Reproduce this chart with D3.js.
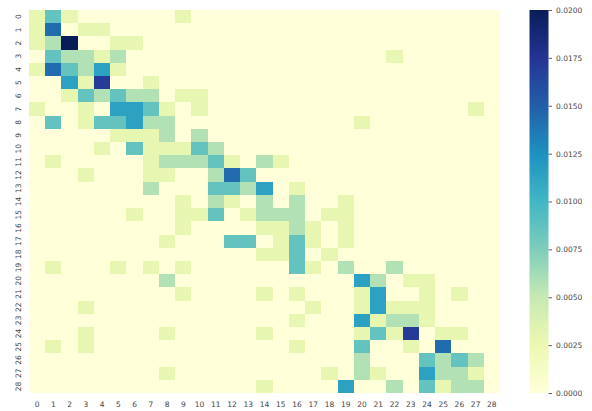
<!DOCTYPE html>
<html>
<head>
<meta charset="utf-8">
<script src="https://cdn.jsdelivr.net/npm/d3@7"></script>
<style>
  body { margin: 0; background: #fff; }
  text { font-family: "DejaVu Sans", sans-serif; fill: #444; }
</style>
</head>
<body>
<div id="chart"></div>
<script>
// row / column labels
const rowLabels = d3.range(29).map(String);
const colLabels = d3.range(29).map(String);

// heatmap values, one array per row
const values = [
  [0.0029,0.0086,0.0029,0,0,0,0,0,0,0.0029,0,0,0,0,0,0,0,0,0,0,0,0,0,0,0,0,0,0,0],
  [0.0029,0.0143,0,0.0029,0.0029,0,0,0,0,0,0,0,0,0,0,0,0,0,0,0,0,0,0,0,0,0,0,0,0],
  [0.0029,0.0057,0.02,0,0,0.0029,0.0029,0,0,0,0,0,0,0,0,0,0,0,0,0,0,0,0,0,0,0,0,0,0],
  [0,0.0086,0.0057,0.0057,0.0029,0.0057,0,0,0,0,0,0,0,0,0,0,0,0,0,0,0,0,0.0029,0,0,0,0,0,0],
  [0.0029,0.0143,0.0086,0.0057,0.0114,0.0029,0,0,0,0,0,0,0,0,0,0,0,0,0,0,0,0,0,0,0,0,0,0,0],
  [0,0,0.0114,0.0029,0.0171,0,0,0.0029,0,0,0,0,0,0,0,0,0,0,0,0,0,0,0,0,0,0,0,0,0],
  [0,0,0.0029,0.0086,0.0057,0.0086,0.0057,0.0057,0,0.0029,0.0029,0,0,0,0,0,0,0,0,0,0,0,0,0,0,0,0,0,0],
  [0.0029,0,0,0.0029,0,0.0114,0.0114,0.0086,0.0029,0,0.0029,0,0,0,0,0,0,0,0,0,0,0,0,0,0,0,0,0.0029,0],
  [0,0.0086,0,0.0029,0.0086,0.0086,0.0114,0.0057,0.0057,0,0,0,0,0,0,0,0,0,0,0,0.0029,0,0,0,0,0,0,0,0],
  [0,0,0,0,0,0.0029,0.0029,0.0029,0.0057,0,0.0057,0,0,0,0,0,0,0,0,0,0,0,0,0,0,0,0,0,0],
  [0,0,0,0,0.0029,0,0.0086,0.0029,0.0029,0.0029,0.0086,0.0057,0,0,0,0,0,0,0,0,0,0,0,0,0,0,0,0,0],
  [0,0.0029,0,0,0,0,0,0.0029,0.0057,0.0057,0.0057,0.0086,0.0029,0,0.0057,0.0029,0,0,0,0,0,0,0,0,0,0,0,0,0],
  [0,0,0,0.0029,0,0,0,0.0029,0.0029,0,0,0.0057,0.0143,0.0086,0,0,0,0,0,0,0,0,0,0,0,0,0,0,0],
  [0,0,0,0,0,0,0,0.0057,0,0,0,0.0086,0.0086,0.0057,0.0114,0,0.0029,0,0,0,0,0,0,0,0,0,0,0,0],
  [0,0,0,0,0,0,0,0,0,0.0029,0,0.0057,0.0029,0,0.0057,0,0.0057,0,0,0.0029,0,0,0,0,0,0,0,0,0],
  [0,0,0,0,0,0,0.0029,0,0,0.0029,0.0029,0.0086,0,0.0029,0.0057,0.0057,0.0057,0,0.0029,0.0029,0,0,0,0,0,0,0,0,0],
  [0,0,0,0,0,0,0,0,0,0.0029,0,0,0,0,0.0029,0.0029,0.0057,0.0029,0,0.0029,0,0,0,0,0,0,0,0,0],
  [0,0,0,0,0,0,0,0,0.0029,0,0,0,0.0086,0.0086,0,0.0029,0.0086,0.0029,0,0.0029,0,0,0,0,0,0,0,0,0],
  [0,0,0,0,0,0,0,0,0,0,0,0,0,0,0.0029,0.0029,0.0086,0,0.0029,0,0,0,0,0,0,0,0,0,0],
  [0,0.0029,0,0,0,0.0029,0,0.0029,0,0.0029,0,0,0,0,0,0,0.0086,0.0029,0,0.0057,0,0,0.0057,0,0,0,0,0,0],
  [0,0,0,0,0,0,0,0,0.0057,0,0,0,0,0,0,0,0,0,0,0,0.0114,0.0057,0,0.0029,0.0029,0,0,0,0],
  [0,0,0,0,0,0,0,0,0,0.0029,0,0,0,0,0.0029,0,0.0029,0,0,0,0.0029,0.0114,0,0,0.0029,0,0.0029,0,0],
  [0,0,0,0.0029,0,0,0,0,0,0,0,0,0,0,0,0,0,0.0029,0,0,0.0029,0.0114,0.0029,0.0029,0.0029,0,0,0,0],
  [0,0,0,0,0,0,0,0,0,0,0,0,0,0,0,0,0.0029,0,0,0,0.0114,0.0029,0.0057,0.0057,0.0029,0,0,0,0],
  [0,0,0,0.0029,0,0,0,0,0.0029,0,0,0,0,0,0.0029,0,0,0,0,0,0.0029,0.0086,0.0029,0.0171,0,0.0029,0.0029,0,0],
  [0,0.0029,0,0.0029,0,0,0,0,0,0,0,0,0,0,0,0,0.0029,0,0,0,0.0086,0,0,0.0029,0,0.0143,0,0,0],
  [0,0,0,0,0,0,0,0,0,0,0,0,0,0,0,0,0,0,0,0,0.0057,0,0,0,0.0086,0.0057,0.0086,0.0057,0],
  [0,0,0,0,0,0,0,0,0.0029,0,0,0,0,0,0,0,0,0,0.0029,0,0.0057,0.0029,0,0,0.0114,0.0057,0.0057,0.0029,0],
  [0,0,0,0,0,0,0,0,0,0,0,0,0,0,0.0029,0,0,0,0,0.0114,0,0,0.0057,0,0.0086,0.0029,0.0057,0.0057,0]
];

// colorbar range and ticks
const vmin = 0, vmax = 0.02;
const colorbarTicks = [0, 0.0025, 0.005, 0.0075, 0.01, 0.0125, 0.015, 0.0175, 0.02];

// matplotlib YlGnBu anchors
const ylgnbu = ["#ffffd9","#edf8b1","#c7e9b4","#7fcdbb","#41b6c4","#1d91c0","#225ea8","#253494","#081d58"];

const width = 592, height = 411;
const plot = { left: 29, top: 10, right: 500, bottom: 393 };
const bar = { left: 529.5, right: 548.5 };

const svg = d3.select("#chart").append("svg")
    .attr("width", width)
    .attr("height", height);

const x = d3.scaleBand().domain(colLabels).range([plot.left, plot.right]);
const y = d3.scaleBand().domain(rowLabels).range([plot.top, plot.bottom]);

const color = d3.scaleLinear()
    .domain(ylgnbu.map((c, i) => vmin + (vmax - vmin) * i / (ylgnbu.length - 1)))
    .range(ylgnbu)
    .interpolate(d3.interpolateRgb)
    .clamp(true);

// flatten into cells
const cells = [];
values.forEach((row, r) => row.forEach((v, c) => cells.push({ r: rowLabels[r], c: colLabels[c], v: v })));

svg.append("g")
    .selectAll("rect")
    .data(cells)
    .enter().append("rect")
    .attr("x", d => x(d.c))
    .attr("y", d => y(d.r))
    .attr("width", x.bandwidth() + 0.3)
    .attr("height", y.bandwidth() + 0.3)
    .attr("fill", d => color(d.v))
    .attr("shape-rendering", "crispEdges");

// x tick labels
svg.append("g")
    .selectAll("text")
    .data(colLabels)
    .enter().append("text")
    .attr("x", d => x(d) + x.bandwidth() / 2)
    .attr("y", 407)
    .attr("text-anchor", "middle")
    .style("font-size", "7.5px")
    .text(d => d);

// y tick labels, rotated
svg.append("g")
    .selectAll("text")
    .data(rowLabels)
    .enter().append("text")
    .attr("transform", d => `translate(21, ${y(d) + y.bandwidth() / 2}) rotate(-90)`)
    .attr("text-anchor", "middle")
    .style("font-size", "7.5px")
    .text(d => d);

// colorbar
const cy = d3.scaleLinear().domain([vmin, vmax]).range([plot.bottom, plot.top]);
const defs = svg.append("defs");
const grad = defs.append("linearGradient")
    .attr("id", "cbar")
    .attr("x1", 0).attr("y1", 1).attr("x2", 0).attr("y2", 0);
ylgnbu.forEach((c, i) => {
    grad.append("stop")
        .attr("offset", i / (ylgnbu.length - 1))
        .attr("stop-color", c);
});

svg.append("rect")
    .attr("x", bar.left)
    .attr("y", plot.top)
    .attr("width", bar.right - bar.left)
    .attr("height", plot.bottom - plot.top)
    .attr("fill", "url(#cbar)");

const cbAxis = d3.axisRight(cy)
    .tickValues(colorbarTicks)
    .tickFormat(d3.format(".4f"))
    .tickSize(3.5)
    .tickPadding(4);

const cbG = svg.append("g")
    .attr("transform", `translate(${bar.right}, 0)`)
    .call(cbAxis);
cbG.select(".domain").remove();
cbG.selectAll(".tick line").attr("stroke", "#333").attr("stroke-width", 0.8);
cbG.selectAll(".tick text")
    .style("font-size", "7.5px")
    .style("font-family", "DejaVu Sans, sans-serif")
    .attr("fill", "#444");
</script>
</body>
</html>
